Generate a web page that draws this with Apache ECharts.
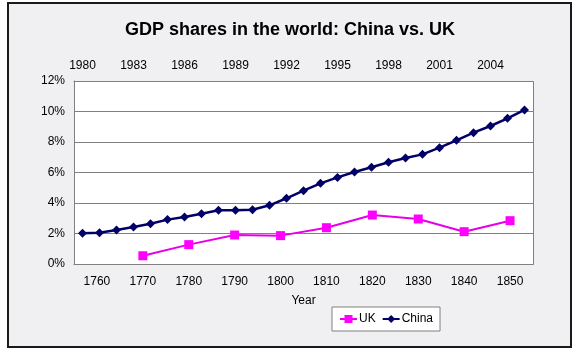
<!DOCTYPE html>
<html>
<head>
<meta charset="utf-8">
<script src="https://cdn.jsdelivr.net/npm/echarts@6/dist/echarts.min.js"></script>
<style>
  html, body { margin: 0; padding: 0; background: #fff; }
  #main { width: 580px; height: 353px; }
</style>
</head>
<body>
<div id="main"></div>
<script>
var chartDom = document.getElementById('main');
var myChart = echarts.init(chartDom);

// bottom axis: UK (18th-19th century)
const ukYears = ['1760', '1770', '1780', '1790', '1800', '1810', '1820', '1830', '1840', '1850'];
const ukShare = [null, 0.54, 1.27, 1.9, 1.86, 2.38, 3.21, 2.95, 2.12, 2.84];

// top axis: China (1980-2006)
const chinaYears = ['1980', '1981', '1982', '1983', '1984', '1985', '1986', '1987', '1988', '1989',
  '1990', '1991', '1992', '1993', '1994', '1995', '1996', '1997', '1998', '1999',
  '2000', '2001', '2002', '2003', '2004', '2005', '2006'];
const chinaShare = [2.01, 2.05, 2.23, 2.43, 2.64, 2.91, 3.08, 3.3, 3.52, 3.52,
  3.56, 3.85, 4.31, 4.81, 5.29, 5.68, 6.03, 6.34, 6.67, 6.95,
  7.19, 7.63, 8.11, 8.61, 9.05, 9.55, 10.1];

const fontFamily = 'Liberation Sans, Arial, sans-serif';
const axisGray = '#808080';

var option = {
  animation: false,
  textStyle: { fontFamily: fontFamily },
  graphic: [
    {
      type: 'rect',
      left: 7, top: 2,
      shape: { width: 563, height: 344 },
      style: { fill: '#f0eff1', stroke: '#1a1a1a', lineWidth: 2 },
      z: -10
    },
    {
      type: 'rect',
      left: 74, top: 81,
      shape: { width: 459, height: 183 },
      style: { fill: '#ffffff', stroke: axisGray, lineWidth: 1 },
      z: -5
    }
  ],
  title: {
    text: 'GDP shares in the world: China vs. UK',
    left: 'center',
    top: 16,
    textStyle: { fontSize: 18, fontWeight: 'bold', color: '#000', fontFamily: fontFamily }
  },
  legend: {
    left: 332,
    top: 307,
    padding: [6, 7, 6, 7],
    itemGap: 6,
    itemWidth: 17,
    itemHeight: 10,
    backgroundColor: '#ffffff',
    borderColor: axisGray,
    borderWidth: 1,
    borderRadius: 0,
    textStyle: { fontSize: 12, color: '#000', padding: [0, 0, 0, -3] },
    data: ['UK', 'China']
  },
  grid: { left: 74, right: 47, top: 81, bottom: 89 },
  xAxis: [
    {
      type: 'category',
      position: 'bottom',
      data: ukYears,
      name: 'Year',
      nameLocation: 'middle',
      nameGap: 31,
      nameTextStyle: { fontSize: 12, color: '#000' },
      axisLine: { lineStyle: { color: axisGray, width: 1 } },
      axisTick: { inside: true, length: 3, lineStyle: { color: axisGray } },
      axisLabel: { fontSize: 12, color: '#000', margin: 12 },
      splitLine: { show: false }
    },
    {
      type: 'category',
      position: 'top',
      data: chinaYears,
      axisLine: { onZero: false, lineStyle: { color: axisGray, width: 1 } },
      axisTick: { inside: true, length: 3, interval: 0, lineStyle: { color: axisGray } },
      axisLabel: { fontSize: 12, color: '#000', interval: 2, margin: 9 },
      splitLine: { show: false }
    }
  ],
  yAxis: {
    type: 'value',
    min: 0,
    max: 12,
    interval: 2,
    axisLine: { show: true, lineStyle: { color: axisGray } },
    axisTick: { show: false },
    axisLabel: { fontSize: 12, color: '#000', margin: 9, formatter: '{value}%' },
    splitLine: { lineStyle: { color: axisGray, width: 1 } }
  },
  series: [
    {
      name: 'UK',
      type: 'line',
      xAxisIndex: 0,
      data: ukShare,
      color: '#ff00ff',
      symbol: 'rect',
      symbolSize: 9,
      lineStyle: { width: 2, color: '#e600e6' },
      itemStyle: { color: '#ff00ff' }
    },
    {
      name: 'China',
      type: 'line',
      xAxisIndex: 1,
      data: chinaShare,
      color: '#000066',
      symbol: 'diamond',
      symbolSize: 9,
      lineStyle: { width: 2.5, color: '#000066' },
      itemStyle: { color: '#000066' }
    }
  ]
};

myChart.setOption(option);
</script>
</body>
</html>
